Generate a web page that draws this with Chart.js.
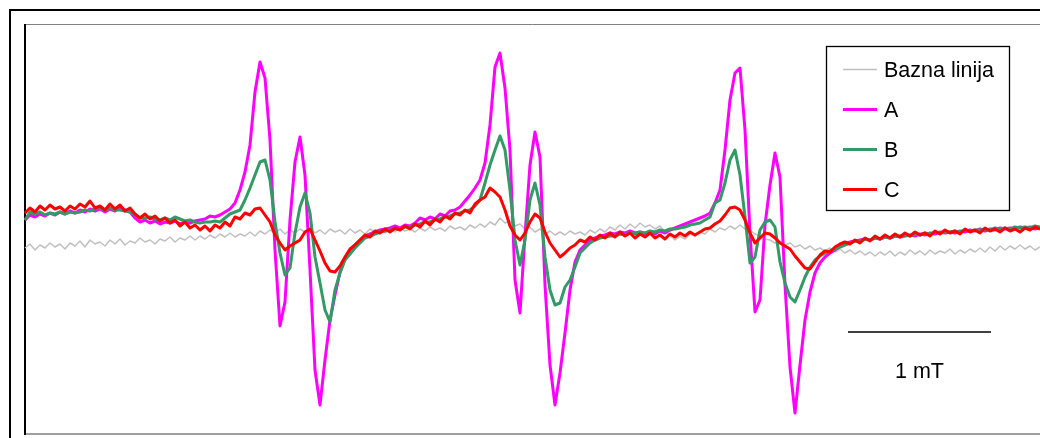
<!DOCTYPE html>
<html>
<head>
<meta charset="utf-8">
<script src="https://cdn.jsdelivr.net/npm/chart.js@4.4.1/dist/chart.umd.min.js"></script>
<style>
html,body{margin:0;padding:0;background:#fff;overflow:hidden;}
#wrap{position:relative;width:1040px;height:438px;}
</style>
</head>
<body>
<div id="wrap"><canvas id="epr" width="1040" height="438"></canvas></div>
<script>
// EPR spektri - intenzitet (proizv. jedinice) po kanalu polja
const channels = Array.from({length:204},(_,i)=>i);

const baseline = [
-8,-4,-10,-5,-8,-3,-7,-4,-9,-3,
-6,-1,-7,0,-4,-2,-6,0,-4,1,
-5,-1,-3,2,-2,0,-4,1,-1,3,
-2,2,0,4,0,4,1,5,2,6,
3,7,3,6,4,8,4,9,6,10,
7,11,6,10,7,11,8,12,7,10,
6,11,8,10,6,11,7,10,6,11,
8,10,7,11,8,12,9,11,8,12,
9,13,10,12,9,14,11,13,10,15,
12,16,13,18,15,22,17,19,14,16,
11,13,8,11,6,9,5,8,5,9,
6,8,5,10,7,11,8,13,10,15,
11,16,12,17,13,15,11,14,8,4,
0,4,1,6,4,8,6,11,8,12,
10,14,11,15,11,10,6,4,1,0,
-3,-1,-5,-3,-7,-5,-9,-6,-10,-8,
-11,-8,-12,-9,-13,-10,-14,-11,-15,-12,
-16,-12,-15,-11,-16,-12,-15,-10,-14,-11,
-15,-10,-14,-11,-13,-9,-14,-10,-13,-9,
-12,-8,-12,-7,-11,-6,-10,-6,-9,-5,
-9,-6,-10,-7
];

const seriesA = [
20,25,23,26,24,27,25,28,26,29,
27,30,28,31,29,31,28,31,29,32,
30,28,22,18,20,17,19,16,18,17,
19,16,18,17,19,20,21,24,23,25,
28,31,37,50,68,95,148,178,162,100,
-10,-86,-62,20,78,103,65,-30,-130,-165,
-120,-80,-55,-32,-18,-10,-5,0,4,6,
8,10,11,12,14,12,15,14,17,22,
20,23,21,26,24,29,30,33,39,45,
52,60,77,115,173,187,152,90,-40,-73,
5,75,108,83,-45,-125,-165,-133,-93,-50,
-22,-10,-5,0,2,4,5,7,6,8,
7,9,7,8,6,8,6,9,7,10,
12,14,16,18,20,22,24,27,37,50,
90,140,167,172,110,7,-72,-60,15,55,
87,63,-45,-127,-173,-125,-80,-52,-33,-23,
-17,-13,-10,-6,-4,-2,-1,0,1,0,
2,1,3,2,4,3,4,5,4,6,
5,7,6,8,7,8,7,9,8,10,
9,11,9,11,10,12,11,12,11,13,
12,13,11,12
];

const seriesB = [
20,28,26,28,25,27,26,28,26,28,
27,28,30,29,31,32,30,32,30,30,
29,28,25,22,22,23,21,20,22,20,
23,21,19,20,18,17,18,18,19,18,
22,26,28,30,40,52,65,78,80,60,
18,-13,-35,-28,7,33,47,27,-17,-43,
-70,-82,-50,-33,-20,-14,-8,-3,2,4,
6,8,9,10,11,11,13,13,15,16,
18,18,20,21,23,24,26,27,29,30,
34,40,57,75,90,104,90,50,0,-25,
0,40,57,35,-17,-50,-65,-63,-47,-40,
-27,-13,-8,-3,0,2,3,4,4,6,
5,7,6,8,7,9,8,10,9,11,
11,12,13,15,16,17,20,23,37,40,
57,80,90,65,23,-23,-17,10,18,20,
13,-22,-43,-57,-62,-50,-37,-27,-20,-16,
-13,-11,-9,-7,-5,-3,-1,-2,1,0,
2,1,3,2,4,4,5,4,6,5,
7,6,8,7,8,8,9,8,10,9,
10,10,11,10,12,11,12,11,13,12,
13,12,14,13
];

const seriesC = [
27,32,28,34,30,35,31,33,29,34,
31,36,33,39,32,34,30,36,31,35,
29,32,26,22,26,21,24,19,22,17,
20,14,18,12,15,10,14,9,15,12,
18,14,23,21,27,25,31,32,25,18,
5,-3,-10,-6,-3,0,8,11,0,-11,
-23,-31,-32,-26,-17,-9,-5,0,5,3,
9,7,11,8,12,10,14,11,16,13,
19,15,21,18,24,21,27,25,30,27,
36,40,43,52,48,43,30,14,5,0,
7,18,26,22,8,-3,-10,-17,-13,-8,
-5,0,-2,3,0,5,2,7,3,8,
4,7,2,6,3,7,2,5,1,6,
3,7,4,8,5,8,11,12,16,19,
25,32,33,30,20,7,-3,2,7,6,
2,-3,-6,-9,-16,-22,-28,-29,-22,-15,
-11,-12,-7,-4,-2,-4,0,-3,2,-1,
4,1,5,2,6,3,7,4,8,5,
7,4,9,6,10,7,9,6,11,8,
10,7,12,9,11,8,12,9,11,8,
12,10,13,11
];

const legendLabels=["Bazna linija","A","B","C"];
const colors=["#c0c0c0","#ff00ff","#339966","#ff0000"];
const widths=[1.5,3,3,3];

// skala 1 mT u kanalima
const scaleBar={from:164.6,to:193.2,label:"1 mT"};

const FONT='21.5px "Liberation Sans", Arial, sans-serif';

const frame={
id:"frame",
beforeDatasetsDraw(chart){
const ctx=chart.ctx,a=chart.chartArea;
ctx.save();
ctx.strokeStyle="#000";ctx.lineWidth=2;
ctx.strokeRect(10,10,chart.width+20,chart.height+20);
ctx.strokeStyle="#808080";ctx.lineWidth=1;
ctx.beginPath();ctx.moveTo(a.left,a.top-0.5);ctx.lineTo(a.right,a.top-0.5);ctx.stroke();
ctx.strokeStyle="#a0a0a0";ctx.lineWidth=2;
ctx.beginPath();ctx.moveTo(a.left,a.bottom);ctx.lineTo(a.right,a.bottom);ctx.stroke();
ctx.strokeStyle="#000";ctx.lineWidth=2;
ctx.beginPath();ctx.moveTo(a.left,a.top-1);ctx.lineTo(a.left,a.bottom+1);ctx.stroke();
ctx.restore();
},
afterDatasetsDraw(chart){
const ctx=chart.ctx,x=chart.scales.x;
ctx.save();
// legenda
ctx.fillStyle="#fff";
ctx.fillRect(826,46,184,165);
ctx.strokeStyle="#000";ctx.lineWidth=1.3;
ctx.strokeRect(826.5,46.5,183,164);
ctx.font=FONT;ctx.textBaseline="alphabetic";ctx.textAlign="left";
chart.data.datasets.forEach((d,i)=>{
const y=69.5+i*40;
ctx.strokeStyle=d.borderColor;ctx.lineWidth=d.borderWidth;
ctx.beginPath();ctx.moveTo(843,y);ctx.lineTo(877,y);ctx.stroke();
ctx.fillStyle="#000";
ctx.fillText(d.label,884,y+7);
});
// skala
const x1=x.getPixelForValue(scaleBar.from),x2=x.getPixelForValue(scaleBar.to);
ctx.strokeStyle="#000";ctx.lineWidth=1.5;
ctx.beginPath();ctx.moveTo(x1,332);ctx.lineTo(x2,332);ctx.stroke();
ctx.fillStyle="#000";ctx.textAlign="center";
ctx.fillText(scaleBar.label,(x1+x2)/2,378);
ctx.restore();
}
};

const series=[baseline,seriesA,seriesB,seriesC];

new Chart(document.getElementById("epr"),{
type:"line",
data:{
labels:channels,
datasets:series.map((s,i)=>({
label:legendLabels[i],
data:s,
borderColor:colors[i],
borderWidth:widths[i],
order:4-i
}))
},
options:{
responsive:false,
animation:false,
devicePixelRatio:1,
layout:{padding:{left:25,top:25,right:0,bottom:4}},
elements:{point:{radius:0},line:{tension:0,borderJoinStyle:"round"}},
scales:{
x:{display:false},
y:{display:false,min:-194,max:215}
},
plugins:{legend:{display:false},tooltip:{enabled:false}}
},
plugins:[frame]
});
</script>
</body>
</html>
